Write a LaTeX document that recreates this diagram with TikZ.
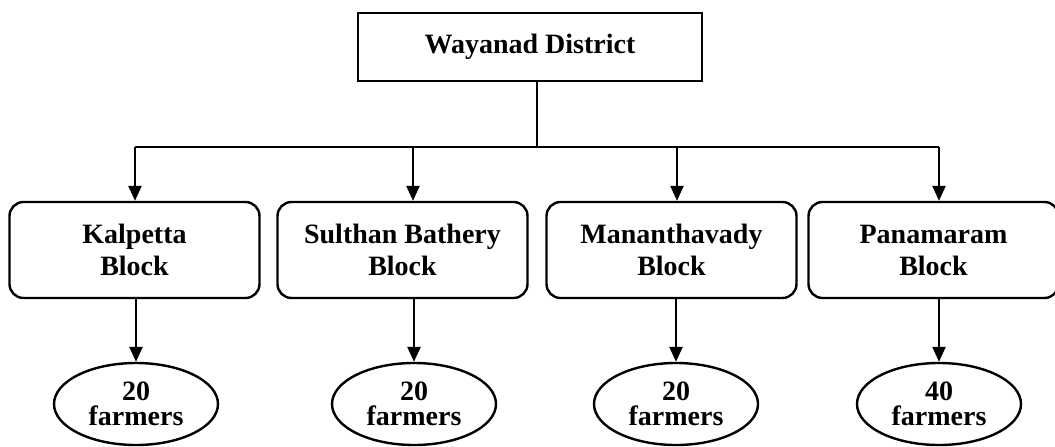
\documentclass[tikz,border=0pt]{standalone}
\usepackage{fontspec}
\setmainfont{Liberation Serif}
\usetikzlibrary{arrows.meta,shapes.geometric}

\begin{document}
\begin{tikzpicture}[x=0.5pt,y=0.5pt,line width=1.2pt,
  >={Triangle[width=6.5pt,length=7.5pt]},
  district/.style={draw,rectangle,minimum width=172pt,minimum height=34pt,font=\fontsize{14}{16}\selectfont\bfseries},
  blockbox/.style={draw,rectangle,rounded corners=7pt,minimum width=125pt,minimum height=48pt,align=center,font=\fontsize{14}{16}\selectfont\bfseries},
  farmers/.style={draw,ellipse,minimum width=82pt,minimum height=41pt,inner sep=0pt,align=center,font=\fontsize{14}{12.5}\selectfont\bfseries}]
\useasboundingbox (0,0) rectangle (1055,446);

\node[district] (wd) at (530,399) {Wayanad District};

\node[blockbox] (b1) at (134.5,196) {Kalpetta\\Block};
\node[blockbox] (b2) at (402.5,196) {Sulthan Bathery\\Block};
\node[blockbox] (b3) at (671.5,196) {Mananthavady\\Block};
\node[blockbox] (b4) at (933.5,196) {Panamaram\\Block};

\node[farmers] (f1) at (136,42) {20\\farmers};
\node[farmers] (f2) at (414,42) {20\\farmers};
\node[farmers] (f3) at (676,42) {20\\farmers};
\node[farmers] (f4) at (939,42) {40\\farmers};

\coordinate (j0) at (537,299);
\coordinate (j1) at (135,299);
\coordinate (j2) at (413,299);
\coordinate (j3) at (677,299);
\coordinate (j4) at (939,299);

\draw (wd.south -| j0) -- (j0);
\draw (j1) -- (j4);
\draw[->] (j1) -- (j1 |- b1.north);
\draw[->] (j2) -- (j2 |- b2.north);
\draw[->] (j3) -- (j3 |- b3.north);
\draw[->] (j4) -- (j4 |- b4.north);

\draw[->] (b1.south -| f1) -- (f1.north);
\draw[->] (b2.south -| f2) -- (f2.north);
\draw[->] (b3.south -| f3) -- (f3.north);
\draw[->] (b4.south -| f4) -- (f4.north);

\end{tikzpicture}
\end{document}
